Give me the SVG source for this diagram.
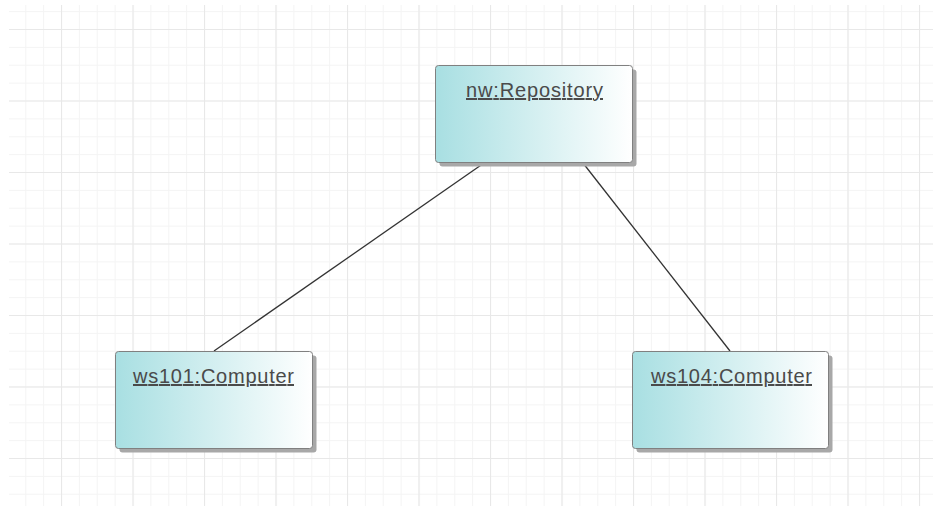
<svg xmlns="http://www.w3.org/2000/svg" width="933" height="506" viewBox="0 0 933 506">
  <defs>
    <pattern id="minor" x="-10.5" y="-42.5" width="17.875" height="17.875" patternUnits="userSpaceOnUse">
      <path d="M0 0.5H17.875M0.5 0V17.875" fill="none" stroke="#f4f4f4" stroke-width="1"/>
    </pattern>
    <pattern id="major" x="-10.5" y="-42.5" width="71.5" height="71.5" patternUnits="userSpaceOnUse">
      <path d="M0 0.5H71.5M0.5 0V71.5" fill="none" stroke="#e8e8e8" stroke-width="1.2"/>
    </pattern>
    <linearGradient id="fill" x1="0" y1="0" x2="1" y2="0">
      <stop offset="0" stop-color="#a8dfe2"/>
      <stop offset="1" stop-color="#ffffff"/>
    </linearGradient>
  </defs>
  <style>
    .shadow { fill: #a8a8a8; }
    .box { fill: url(#fill); stroke: #808080; stroke-width: 1; }
    .label { font-family: "Liberation Sans", Arial, sans-serif; font-size: 20px; fill: #4a4a4a; text-anchor: middle; text-decoration: underline; }
    .conn { stroke: #333333; stroke-width: 1.3; fill: none; }
  </style>
  <rect width="933" height="506" fill="#ffffff"/>
  <rect x="9" y="5" width="924" height="501" fill="url(#minor)"/>
  <rect x="9" y="5" width="924" height="501" fill="url(#major)"/>

  <g id="connectors">
    <line class="conn" x1="484" y1="163" x2="214" y2="351"/>
    <line class="conn" x1="583" y1="163" x2="730" y2="351"/>
  </g>

  <g id="repository">
    <rect class="shadow" x="439.5" y="69.5" width="197" height="97" rx="3"/>
    <rect class="box" x="435.5" y="65.5" width="197" height="97" rx="3"/>
    <text class="label" x="534.5" y="97" textLength="137" lengthAdjust="spacing">nw:Repository</text>
  </g>

  <g id="ws101">
    <rect class="shadow" x="119.5" y="355.5" width="197" height="97" rx="3"/>
    <rect class="box" x="115.5" y="351.5" width="197" height="97" rx="3"/>
    <text class="label" x="213.5" y="383" textLength="161" lengthAdjust="spacing">ws101:Computer</text>
  </g>

  <g id="ws104">
    <rect class="shadow" x="636.5" y="355.5" width="196" height="97" rx="3"/>
    <rect class="box" x="632.5" y="351.5" width="196" height="97" rx="3"/>
    <text class="label" x="731.5" y="383" textLength="161" lengthAdjust="spacing">ws104:Computer</text>
  </g>
</svg>
